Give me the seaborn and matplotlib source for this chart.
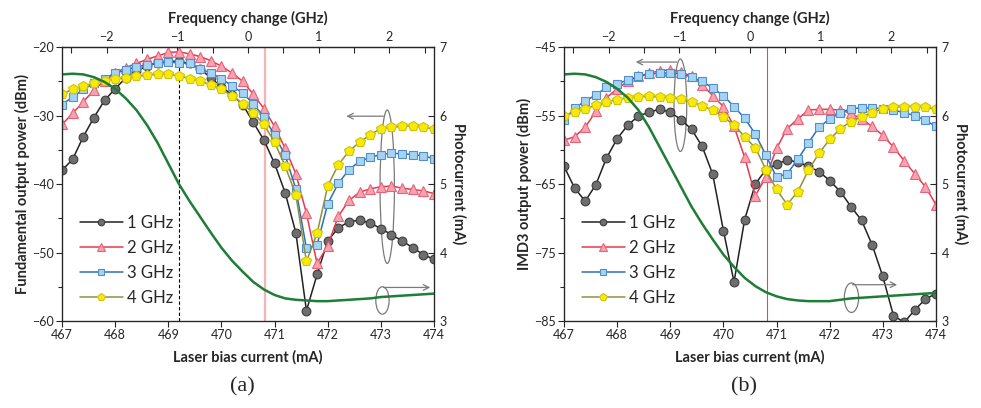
import numpy as np
import matplotlib
matplotlib.use("Agg")
import matplotlib.pyplot as plt
from matplotlib.patches import Ellipse
import seaborn as sns

# style
sns.set_style("ticks")
plt.rcParams["font.family"] = ["Lato", "DejaVu Sans"]

# data: laser bias current (mA), 0.2 mA steps
current = [467.0, 467.2, 467.4, 467.6, 467.8, 468.0, 468.2, 468.4, 468.6, 468.8,
           469.0, 469.2, 469.4, 469.6, 469.8, 470.0, 470.2, 470.4, 470.6, 470.8,
           471.0, 471.2, 471.4, 471.6, 471.8, 472.0, 472.2, 472.4, 472.6, 472.8,
           473.0, 473.2, 473.4, 473.6, 473.8, 474.0]

# (a) fundamental output power (dBm)
fund_1g = [-38.0, -36.4, -33.1, -30.3, -27.8, -26.1, -24.5, -23.5, -22.8, -22.3,
           -22.1, -22.1, -22.4, -23.2, -24.5, -25.8, -27.0, -28.4, -31.0, -33.6,
           -37.0, -41.3, -47.1, -58.5, -53.2, -48.3, -46.4, -45.5, -45.3, -45.7,
           -46.5, -47.4, -48.3, -49.3, -50.3, -51.0]
fund_2g = [-31.3, -29.7, -28.0, -26.3, -24.9, -23.8, -23.0, -22.4, -21.8, -21.3,
           -20.8, -20.7, -21.0, -21.4, -22.0, -22.8, -23.8, -25.0, -26.9, -29.0,
           -31.6, -34.8, -38.5, -44.3, -51.6, -49.0, -44.7, -42.4, -41.2, -40.7,
           -40.4, -40.3, -40.6, -40.8, -41.0, -41.4]
fund_3g = [-28.4, -27.3, -26.2, -25.3, -24.6, -23.8, -23.4, -22.9, -22.6, -22.3,
           -22.2, -22.3, -22.4, -23.2, -23.8, -24.6, -25.7, -26.7, -28.3, -30.2,
           -32.9, -35.8, -40.7, -49.4, -48.9, -42.9, -39.9, -37.9, -36.7, -36.1,
           -35.7, -35.5, -35.6, -35.7, -35.9, -36.3]
fund_4g = [-26.8, -26.2, -25.7, -25.3, -24.9, -24.7, -24.5, -24.3, -24.1, -24.0,
           -24.0, -24.2, -24.6, -25.0, -25.5, -26.2, -27.1, -28.3, -29.6, -31.3,
           -33.9, -37.4, -41.6, -51.3, -47.2, -40.3, -37.2, -35.2, -33.9, -32.8,
           -31.9, -31.7, -31.6, -31.5, -31.7, -32.0]

# (b) IMD3 output power (dBm)
imd_1g = [-62.4, -65.6, -67.5, -65.1, -61.2, -58.4, -56.4, -55.1, -54.5, -54.1,
          -54.5, -55.6, -57.0, -59.5, -63.6, -71.8, -79.3, -70.2, -65.0, -62.9,
          -62.1, -61.5, -61.8, -62.4, -63.2, -64.5, -66.1, -68.3, -70.3, -73.9,
          -78.5, -84.2, -85.2, -83.4, -81.8, -81.0]
imd_2g = [-58.6, -58.1, -56.7, -54.4, -52.4, -51.1, -50.0, -49.3, -48.8, -48.5,
          -48.3, -48.6, -49.3, -50.5, -52.1, -53.7, -56.6, -61.1, -66.7, -64.0,
          -59.8, -56.9, -55.5, -54.2, -54.1, -54.1, -54.2, -54.7, -55.5, -56.6,
          -57.9, -59.6, -61.6, -63.5, -65.4, -68.0]
imd_3g = [-55.7, -53.9, -52.9, -52.0, -50.9, -50.4, -49.8, -49.3, -49.0, -48.8,
          -48.8, -48.9, -49.4, -50.0, -51.0, -52.1, -53.7, -55.4, -57.7, -60.8,
          -64.0, -63.5, -61.4, -59.0, -56.7, -55.5, -54.6, -54.0, -53.9, -53.9,
          -54.0, -54.2, -54.6, -55.0, -55.7, -56.6]
imd_4g = [-55.1, -54.5, -54.0, -53.5, -53.0, -52.7, -52.4, -52.3, -52.2, -52.3,
          -52.4, -52.6, -53.0, -53.6, -54.2, -55.2, -56.4, -58.1, -59.7, -62.9,
          -65.8, -68.0, -66.1, -63.0, -60.5, -58.5, -56.9, -55.9, -55.2, -54.6,
          -54.0, -53.8, -53.7, -53.7, -53.8, -54.1]

# photocurrent (mA)
photo_a = [6.60, 6.61, 6.60, 6.56, 6.49, 6.39, 6.25, 6.08, 5.86, 5.60,
           5.30, 5.00, 4.75, 4.52, 4.29, 4.07, 3.88, 3.72, 3.57, 3.46,
           3.38, 3.33, 3.31, 3.30, 3.29, 3.29, 3.30, 3.31, 3.32, 3.33,
           3.35, 3.36, 3.37, 3.38, 3.39, 3.40]
photo_b = [6.60, 6.61, 6.60, 6.56, 6.49, 6.39, 6.26, 6.08, 5.83, 5.54,
           5.25, 4.96, 4.67, 4.42, 4.19, 3.97, 3.79, 3.63, 3.51, 3.42,
           3.36, 3.32, 3.30, 3.29, 3.29, 3.29, 3.31, 3.33, 3.34, 3.35,
           3.36, 3.37, 3.38, 3.39, 3.40, 3.41]

labels = ["1 GHz", "2 GHz", "3 GHz", "4 GHz"]
styles = [
    dict(marker="o", color="#222222", markerfacecolor="#6e6e6e", markeredgecolor="#3c3c3c", markersize=6.3),
    dict(marker="^", color="#e8384c", markerfacecolor="#f5a3ae", markeredgecolor="#e8627a", markersize=6.8),
    dict(marker="s", color="#2f6fb3", markerfacecolor="#a6d3f2", markeredgecolor="#4f8fcc", markersize=5.6),
    dict(marker="p", color="#8f8f45", markerfacecolor="#f6ea0c", markeredgecolor="#d2c400", markersize=7.2),
]

# frequency change <-> bias current (about 1.33 mA per GHz, 0 at 470.5 mA)
def to_freq(i):
    return (np.asarray(i) - 470.5) / 1.33

def to_current(f):
    return np.asarray(f) * 1.33 + 470.5

marker_line = 470.82
dash_line = 469.2

fig = plt.figure(figsize=(9.81, 4.08), dpi=100)
ax_a = fig.add_axes([0.0632, 0.2132, 0.3792, 0.6716])
ax_b = fig.add_axes([0.5749, 0.2132, 0.3792, 0.6716])

panels = [
    (ax_a, [fund_1g, fund_2g, fund_3g, fund_4g], photo_a, (-60, -20), "Fundamental output power (dBm)", "(a)"),
    (ax_b, [imd_1g, imd_2g, imd_3g, imd_4g], photo_b, (-85, -45), "IMD3 output power (dBm)", "(b)"),
]

tick_fs = 9
label_fs = 10.5

for ax, series, photo, ylim, ylabel, tag in panels:
    for vals, lab, st in zip(series, labels, styles):
        sns.lineplot(x=current, y=vals, ax=ax, label=lab, linewidth=1.1,
                     markeredgewidth=0.8, clip_on=True, **st)
    ax.set_xlim(467, 474)
    ax.set_ylim(*ylim)
    ax.set_xticks(range(467, 475))
    ax.set_yticks(np.arange(ylim[0], ylim[1] + 1, 10))
    ax.set_yticks(np.arange(ylim[0], ylim[1] + 1, 5), minor=True)
    ax.tick_params(axis="both", labelsize=tick_fs, direction="out", length=4, width=0.8, pad=2)
    ax.tick_params(axis="y", which="minor", direction="out", length=3, width=0.8)
    ax.set_xlabel("Laser bias current (mA)", fontsize=label_fs, fontweight="bold", labelpad=6)
    ax.set_ylabel(ylabel, fontsize=label_fs, fontweight="bold", labelpad=1)
    for sp in ax.spines.values():
        sp.set_linewidth(0.9)
        sp.set_color("#222222")

    ax.legend(loc="lower left", bbox_to_anchor=(0.03, 0.03), frameon=False,
              fontsize=12, handlelength=2.6, handletextpad=0.25,
              labelspacing=0.55, markerscale=0.75, borderaxespad=0)

    # photocurrent on right axis
    tw = ax.twinx()
    sns.lineplot(x=current, y=photo, ax=tw, color="#1e7d36", linewidth=1.8, legend=False)
    tw.set_ylim(3, 7)
    tw.set_yticks([3, 4, 5, 6, 7])
    tw.tick_params(axis="y", labelsize=tick_fs, direction="in", length=4, width=0.8, pad=4)
    tw.set_ylabel("Photocurrent (mA)", fontsize=label_fs, fontweight="bold", rotation=270, labelpad=14)

    # frequency axis on top
    top = ax.secondary_xaxis("top", functions=(to_freq, to_current))
    top.set_xticks([-2, -1, 0, 1, 2])
    top.set_xticks([-2.5, -1.5, -0.5, 0.5, 1.5, 2.5], minor=True)
    top.tick_params(axis="x", which="both", direction="in", labelsize=tick_fs, length=4, width=0.8, pad=3)
    top.set_xlabel("Frequency change (GHz)", fontsize=label_fs, fontweight="bold", labelpad=6)

    fig.text(ax.get_position().x0 + ax.get_position().width * 0.485, 0.052, tag,
             fontsize=16, family="Liberation Serif", ha="center", va="center")

# vertical markers
ax_a.axvline(marker_line, color="#f5a0a0", linewidth=1.6, alpha=0.8, zorder=1)
ax_a.vlines(dash_line, -60, -20.6, colors="black", linestyles=(0, (3, 2)), linewidth=0.8, zorder=1)
ax_b.axvline(marker_line, color="#e84848", linewidth=0.8, zorder=1)

grey = "#7a7a7a"
arrow = dict(arrowstyle="->", color=grey, lw=0.9, shrinkA=0, shrinkB=0)

# (a) annotations
ax_a.add_patch(Ellipse((473.12, -40.4), 0.27, 22.4, fill=False, edgecolor=grey, lw=0.9))
ax_a.annotate("", xy=(472.35, -30.1), xytext=(473.05, -30.1), arrowprops=arrow)
ax_a.add_patch(Ellipse((473.03, -57.0), 0.25, 4.0, fill=False, edgecolor=grey, lw=0.9))
ax_a.annotate("", xy=(473.93, -55.1), xytext=(473.05, -55.1), arrowprops=arrow)

# (b) annotations
ax_b.add_patch(Ellipse((469.19, -53.5), 0.24, 13.5, fill=False, edgecolor=grey, lw=0.9))
ax_b.annotate("", xy=(468.35, -47.2), xytext=(469.12, -47.2), arrowprops=arrow)
ax_b.add_patch(Ellipse((472.41, -81.6), 0.27, 4.3, fill=False, edgecolor=grey, lw=0.9))
ax_b.annotate("", xy=(473.27, -79.7), xytext=(472.43, -79.7), arrowprops=arrow)

plt.savefig("out.png", dpi=100)
